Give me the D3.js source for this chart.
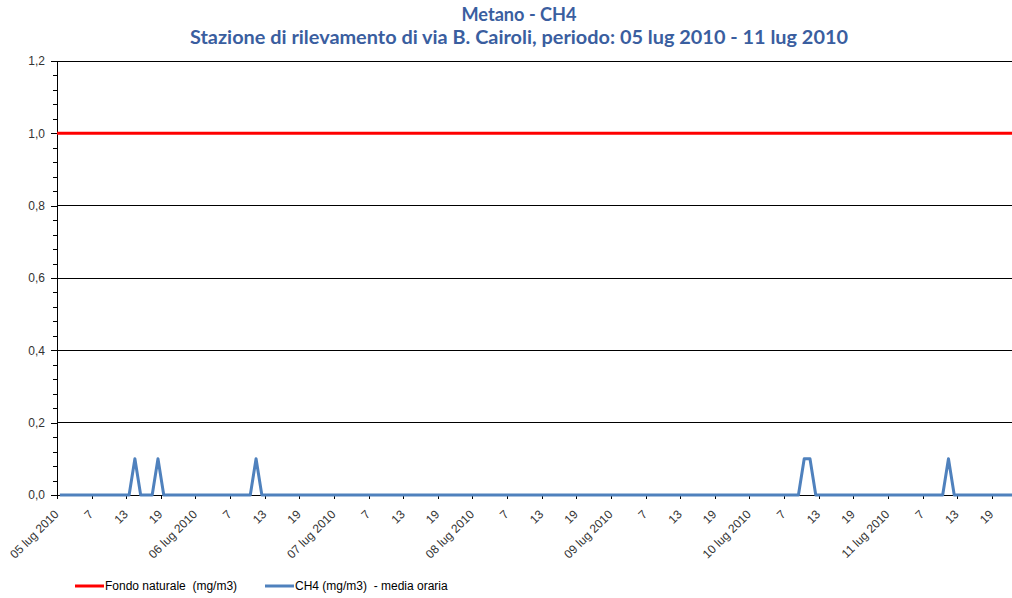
<!DOCTYPE html>
<html>
<head>
<meta charset="utf-8">
<script src="https://cdn.jsdelivr.net/npm/d3@7"></script>
<style>
    body { margin: 0; background: #fff; }
    svg { display: block; font-family: "Liberation Sans", Arial, sans-serif; }
</style>
</head>
<body>
<div id="chart"></div>
<script>
// titolo e legenda
const titleLines = ['Metano - CH4', 'Stazione di rilevamento di via B. Cairoli, periodo: 05 lug 2010 - 11 lug 2010'];
const legendLabels = ['Fondo naturale  (mg/m3)', 'CH4 (mg/m3)  - media oraria'];

// giorni del periodo (una etichetta per giorno, poi ore 7, 13, 19)
const days = ['05 lug 2010', '06 lug 2010', '07 lug 2010', '08 lug 2010', '09 lug 2010', '10 lug 2010', '11 lug 2010'];
const hourLabels = ['7', '13', '19'];

// fondo naturale (costante)
const fondoNaturale = 1.0;

// CH4 media oraria, 24 valori per giorno
const ch4 = [
    0, 0, 0, 0, 0, 0, 0, 0, 0, 0, 0, 0, 0, 0.1, 0, 0, 0, 0.1, 0, 0, 0, 0, 0, 0,   // 05 lug
    0, 0, 0, 0, 0, 0, 0, 0, 0, 0, 0.1, 0, 0, 0, 0, 0, 0, 0, 0, 0, 0, 0, 0, 0,   // 06 lug
    0, 0, 0, 0, 0, 0, 0, 0, 0, 0, 0, 0, 0, 0, 0, 0, 0, 0, 0, 0, 0, 0, 0, 0,     // 07 lug
    0, 0, 0, 0, 0, 0, 0, 0, 0, 0, 0, 0, 0, 0, 0, 0, 0, 0, 0, 0, 0, 0, 0, 0,     // 08 lug
    0, 0, 0, 0, 0, 0, 0, 0, 0, 0, 0, 0, 0, 0, 0, 0, 0, 0, 0, 0, 0, 0, 0, 0,     // 09 lug
    0, 0, 0, 0, 0, 0, 0, 0, 0, 0.1, 0.1, 0, 0, 0, 0, 0, 0, 0, 0, 0, 0, 0, 0, 0, // 10 lug
    0, 0, 0, 0, 0, 0, 0, 0, 0, 0, 0.1, 0, 0, 0, 0, 0, 0, 0, 0, 0, 0, 0, 0, 0    // 11 lug
];

const yTicks = [0, 0.2, 0.4, 0.6, 0.8, 1.0, 1.2];

const width = 1012, height = 598;
const margin = {top: 61, left: 57};
const stepPx = 5.77; // larghezza di una categoria oraria
const plotBottom = 495;

const svg = d3.select('#chart').append('svg')
    .attr('width', width)
    .attr('height', height);

// categorie fra i segni di graduazione (come in Excel)
const x = d3.scaleLinear()
    .domain([0, ch4.length])
    .range([margin.left, margin.left + ch4.length * stepPx]);

const y = d3.scaleLinear()
    .domain([0, 1.2])
    .range([plotBottom, margin.top]);

const fmt = v => d3.format('.1f')(v).replace('.', ',');

// griglia orizzontale
svg.append('g')
    .selectAll('line')
    .data(yTicks.slice(1))
    .join('line')
    .attr('x1', margin.left).attr('x2', width)
    .attr('y1', d => y(d)).attr('y2', d => y(d))
    .attr('stroke', '#000')
    .attr('stroke-width', 1)
    .attr('shape-rendering', 'crispEdges');

// asse y con tacche secondarie
const minorTicks = d3.range(0, 1.2001, 0.04);
svg.append('g')
    .attr('transform', `translate(${margin.left},0)`)
    .call(d3.axisLeft(y).tickValues(minorTicks).tickSize(4).tickFormat(''))
    .call(g => g.select('.domain').remove());

const yAxis = svg.append('g')
    .attr('transform', `translate(${margin.left},0)`)
    .call(d3.axisLeft(y).tickValues(yTicks).tickSize(6).tickPadding(6).tickFormat(fmt));
yAxis.select('.domain').attr('stroke', '#000');
yAxis.selectAll('line').attr('stroke', '#000');
yAxis.selectAll('text')
    .attr('font-size', 12)
    .attr('fill', '#333');
svg.selectAll('.tick line').attr('shape-rendering', 'crispEdges');

// asse x: un segno ogni 6 ore
const xTickIdx = d3.range(0, ch4.length, 6);
const xLabel = i => {
    const k = (i / 6) % 4;
    return k === 0 ? days[i / 24] : hourLabels[k - 1];
};

const xAxis = svg.append('g')
    .attr('transform', `translate(0,${plotBottom})`)
    .call(d3.axisBottom(x).tickValues(xTickIdx).tickSize(4).tickPadding(3).tickFormat(xLabel));
xAxis.select('.domain').attr('stroke', '#000').attr('shape-rendering', 'crispEdges');
xAxis.selectAll('line').attr('stroke', '#000').attr('shape-rendering', 'crispEdges');
xAxis.selectAll('text')
    .attr('font-size', 12)
    .attr('fill', '#333')
    .attr('text-anchor', 'end')
    .attr('dy', 0)
    .attr('transform', 'translate(-3,15) rotate(-45)');

// fondo naturale
svg.append('line')
    .attr('x1', margin.left).attr('x2', width)
    .attr('y1', y(fondoNaturale)).attr('y2', y(fondoNaturale))
    .attr('stroke', '#ff0000')
    .attr('stroke-width', 3);

// CH4
const line = d3.line()
    .x((d, i) => x(i + 0.5))
    .y(d => y(d));

svg.append('path')
    .datum(ch4)
    .attr('d', line)
    .attr('fill', 'none')
    .attr('stroke', '#4f81bd')
    .attr('stroke-width', 3)
    .attr('stroke-linejoin', 'round');

// titolo
const titleWidths = [115, 658];
svg.append('g')
    .selectAll('text')
    .data(titleLines)
    .join('text')
    .attr('x', 519)
    .attr('y', (d, i) => 21 + i * 23)
    .attr('text-anchor', 'middle')
    .attr('textLength', (d, i) => titleWidths[i])
    .attr('lengthAdjust', 'spacingAndGlyphs')
    .style('font-family', 'Lato, sans-serif')
    .style('font-weight', 'bold')
    .style('font-size', '18.5px')
    .attr('fill', '#3a5e9f')
    .text(d => d);

// legenda
const legendColors = ['#ff0000', '#4f81bd'];
const legendX = [75, 265];
const legend = svg.append('g')
    .selectAll('g')
    .data(legendLabels)
    .join('g')
    .attr('transform', (d, i) => `translate(${legendX[i]},586)`);

legend.append('line')
    .attr('x1', 0).attr('x2', 29)
    .attr('stroke', (d, i) => legendColors[i])
    .attr('stroke-width', 3);

legend.append('text')
    .attr('x', 30)
    .attr('y', 4)
    .attr('font-size', 12)
    .style('white-space', 'pre')
    .attr('fill', '#000')
    .text(d => d);
</script>
</body>
</html>
